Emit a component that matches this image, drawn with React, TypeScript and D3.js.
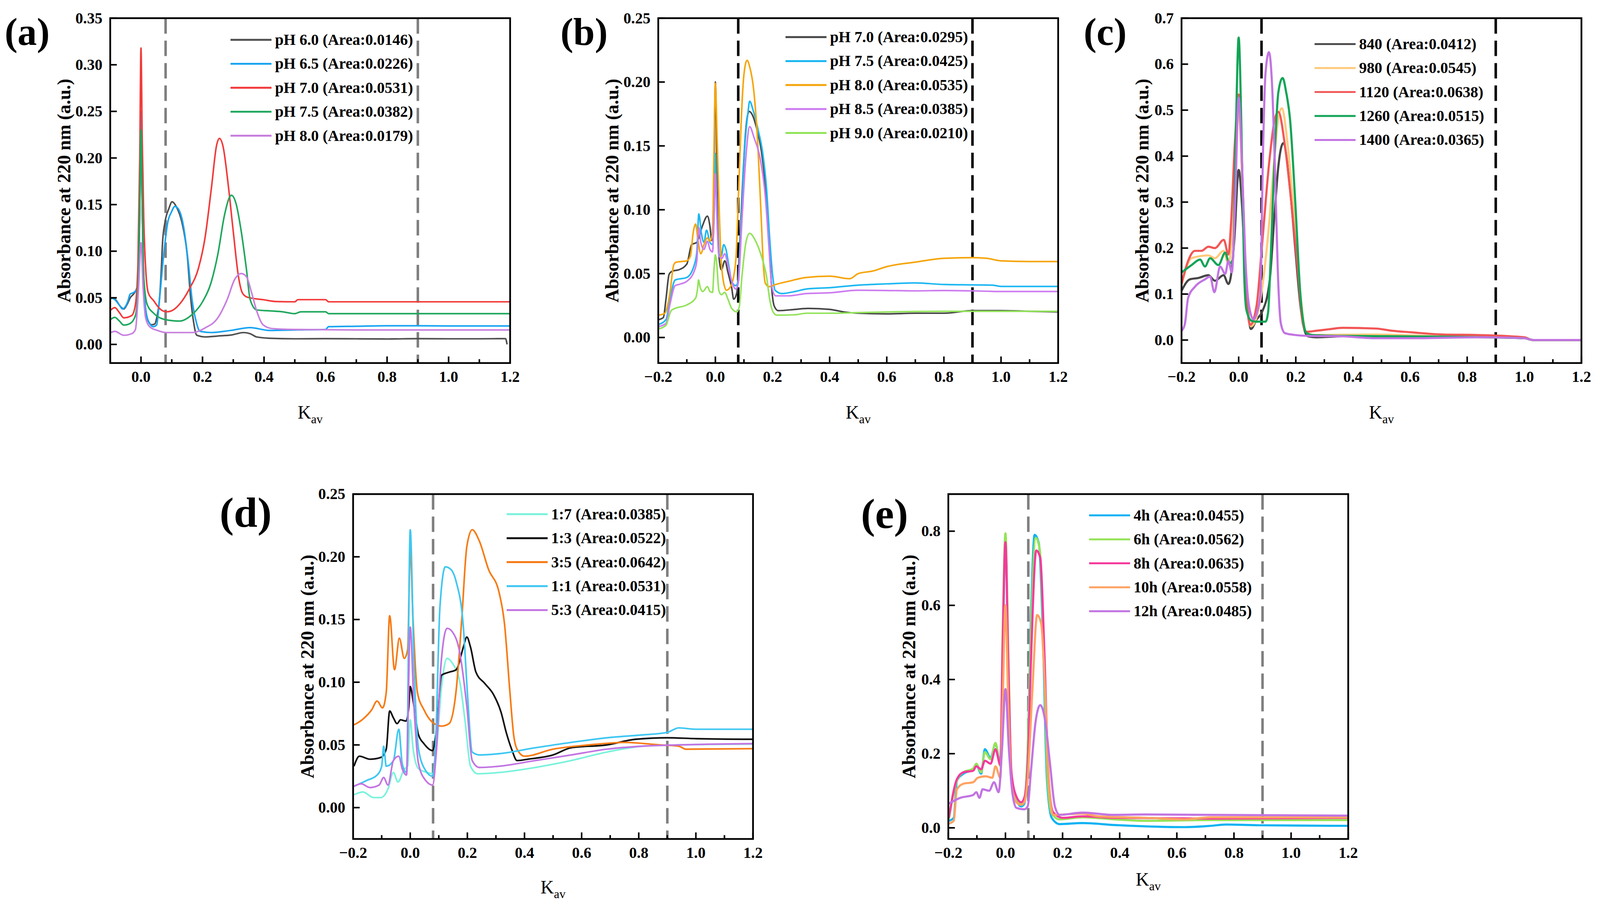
import * as d3 from 'd3';
import { useEffect } from 'react';

type Pt = [number, number];

// shared
const kavGuides = [0.08, 0.9];
const xMajor = [-0.2, 0, 0.2, 0.4, 0.6, 0.8, 1.0, 1.2];
const xMinor = [-0.1, 0.1, 0.3, 0.5, 0.7, 0.9, 1.1];

// (a) pH series
const aNames = ['pH 6.0 (Area:0.0146)', 'pH 6.5 (Area:0.0226)', 'pH 7.0 (Area:0.0531)', 'pH 7.5 (Area:0.0382)', 'pH 8.0 (Area:0.0179)'];
const aYTicks = [0, 0.05, 0.1, 0.15, 0.2, 0.25, 0.3, 0.35];
const aPH60: Pt[] = [[-0.098,0.049],[-0.09,0.05],[-0.08,0.047],[-0.07,0.042],[-0.056,0.038],[-0.045,0.043],[-0.035,0.05],[-0.022,0.055],[-0.012,0.062],[-0.005,0.12],[0,0.24],[0.005,0.13],[0.01,0.06],[0.016,0.035],[0.025,0.024],[0.035,0.021],[0.045,0.022],[0.052,0.03],[0.06,0.048],[0.066,0.08],[0.07,0.109],[0.078,0.131],[0.091,0.146],[0.101,0.153],[0.116,0.147],[0.133,0.131],[0.15,0.097],[0.162,0.048],[0.171,0.024],[0.181,0.01],[0.208,0.008],[0.25,0.009],[0.292,0.01],[0.334,0.0127],[0.355,0.0115],[0.376,0.008],[0.418,0.0066],[0.5,0.006],[0.6,0.0062],[0.7,0.006],[0.8,0.0058],[0.9,0.0062],[1.0,0.006],[1.1,0.006],[1.185,0.0062],[1.19,0.0]];
const aPH65: Pt[] = [[-0.098,0.05],[-0.085,0.048],[-0.07,0.042],[-0.06,0.038],[-0.05,0.041],[-0.043,0.046],[-0.035,0.054],[-0.022,0.056],[-0.012,0.06],[-0.006,0.1],[0,0.25],[0.004,0.15],[0.007,0.085],[0.016,0.036],[0.028,0.0225],[0.04,0.019],[0.051,0.021],[0.06,0.048],[0.074,0.097],[0.087,0.131],[0.099,0.142],[0.11,0.148],[0.12,0.146],[0.137,0.129],[0.154,0.087],[0.166,0.048],[0.179,0.025],[0.192,0.014],[0.229,0.0127],[0.292,0.015],[0.355,0.018],[0.418,0.015],[0.5,0.0155],[0.6,0.016],[0.61,0.019],[0.7,0.0195],[0.8,0.02],[0.9,0.02],[1.0,0.0198],[1.1,0.0198],[1.2,0.0198]];
const aPH70: Pt[] = [[-0.098,0.037],[-0.085,0.0395],[-0.07,0.034],[-0.056,0.0285],[-0.03,0.031],[-0.018,0.043],[-0.01,0.085],[-0.004,0.2],[0,0.318],[0.004,0.22],[0.009,0.134],[0.016,0.077],[0.024,0.055],[0.041,0.047],[0.062,0.038],[0.083,0.035],[0.099,0.036],[0.125,0.043],[0.158,0.06],[0.187,0.082],[0.208,0.114],[0.229,0.168],[0.246,0.214],[0.255,0.221],[0.267,0.212],[0.284,0.17],[0.3,0.121],[0.317,0.0725],[0.33,0.055],[0.347,0.0505],[0.397,0.048],[0.44,0.046],[0.5,0.0457],[0.51,0.048],[0.6,0.048],[0.61,0.0457],[0.8,0.0457],[1.0,0.0457],[1.2,0.0457]];
const aPH75: Pt[] = [[-0.098,0.027],[-0.085,0.029],[-0.07,0.025],[-0.056,0.0207],[-0.035,0.0225],[-0.018,0.031],[-0.01,0.06],[-0.004,0.15],[0,0.23],[0.004,0.15],[0.009,0.0725],[0.02,0.043],[0.041,0.0335],[0.074,0.027],[0.125,0.025],[0.166,0.032],[0.2,0.0457],[0.229,0.0676],[0.25,0.097],[0.271,0.138],[0.288,0.158],[0.294,0.16],[0.309,0.151],[0.326,0.121],[0.343,0.08],[0.355,0.048],[0.376,0.037],[0.418,0.036],[0.46,0.035],[0.5,0.033],[0.52,0.035],[0.6,0.035],[0.61,0.033],[0.8,0.033],[1.0,0.033],[1.2,0.033]];
const aPH80: Pt[] = [[-0.098,0.0127],[-0.085,0.014],[-0.056,0.0098],[-0.03,0.0115],[-0.018,0.016],[-0.008,0.06],[0,0.109],[0.007,0.06],[0.015,0.0286],[0.028,0.019],[0.053,0.015],[0.083,0.0127],[0.166,0.0127],[0.208,0.0176],[0.25,0.0286],[0.28,0.048],[0.305,0.07],[0.326,0.076],[0.343,0.0725],[0.36,0.055],[0.376,0.036],[0.397,0.021],[0.426,0.017],[0.5,0.016],[0.7,0.0155],[1.0,0.0155],[1.2,0.0155]];

// (b) pH series
const bNames = ['pH 7.0 (Area:0.0295)', 'pH 7.5 (Area:0.0425)', 'pH 8.0 (Area:0.0535)', 'pH 8.5 (Area:0.0385)', 'pH 9.0 (Area:0.0210)'];
const bYTicks = [0, 0.05, 0.1, 0.15, 0.2, 0.25];
const bPH70: Pt[] = [[-0.198,0.014],[-0.182,0.0157],[-0.173,0.03],[-0.162,0.0495],[-0.15,0.052],[-0.128,0.053],[-0.1,0.0575],[-0.083,0.0727],[-0.065,0.0745],[-0.046,0.087],[-0.028,0.095],[-0.019,0.087],[-0.013,0.076],[-0.006,0.11],[0,0.2],[0.008,0.092],[0.014,0.06],[0.021,0.053],[0.033,0.06],[0.044,0.051],[0.057,0.039],[0.064,0.03],[0.075,0.035],[0.084,0.066],[0.093,0.11],[0.107,0.164],[0.118,0.177],[0.13,0.174],[0.143,0.165],[0.161,0.146],[0.175,0.119],[0.188,0.0745],[0.197,0.039],[0.206,0.0246],[0.22,0.021],[0.279,0.022],[0.324,0.0228],[0.4,0.022],[0.45,0.02],[0.5,0.019],[0.6,0.0185],[0.7,0.019],[0.8,0.019],[0.9,0.021],[1.0,0.021],[1.1,0.0205],[1.2,0.02]];
const bPH75: Pt[] = [[-0.198,0.0103],[-0.173,0.014],[-0.159,0.03],[-0.141,0.045],[-0.1,0.047],[-0.074,0.0567],[-0.065,0.067],[-0.058,0.0968],[-0.049,0.0816],[-0.04,0.0745],[-0.031,0.084],[-0.019,0.0745],[-0.01,0.0727],[-0.005,0.092],[0,0.144],[0.005,0.101],[0.012,0.0656],[0.021,0.064],[0.029,0.0727],[0.037,0.069],[0.048,0.055],[0.057,0.044],[0.071,0.0406],[0.08,0.044],[0.089,0.083],[0.102,0.146],[0.114,0.176],[0.12,0.185],[0.132,0.178],[0.148,0.164],[0.166,0.144],[0.179,0.117],[0.19,0.078],[0.2,0.0495],[0.209,0.037],[0.233,0.0344],[0.279,0.036],[0.32,0.038],[0.4,0.039],[0.5,0.041],[0.6,0.042],[0.7,0.0427],[0.8,0.0415],[0.9,0.0412],[0.97,0.041],[1.0,0.04],[1.2,0.04]];
const bPH80: Pt[] = [[-0.198,0.0175],[-0.177,0.019],[-0.159,0.035],[-0.146,0.0567],[-0.137,0.059],[-0.1,0.06],[-0.087,0.064],[-0.078,0.0816],[-0.069,0.0888],[-0.062,0.078],[-0.051,0.0656],[-0.04,0.0727],[-0.028,0.078],[-0.019,0.0754],[-0.01,0.0816],[-0.005,0.146],[0,0.199],[0.005,0.164],[0.012,0.11],[0.019,0.0656],[0.028,0.044],[0.039,0.037],[0.053,0.0398],[0.064,0.0478],[0.073,0.0656],[0.082,0.119],[0.091,0.1725],[0.1,0.206],[0.111,0.217],[0.12,0.212],[0.134,0.194],[0.148,0.153],[0.159,0.101],[0.168,0.0567],[0.175,0.0424],[0.188,0.0398],[0.211,0.0415],[0.256,0.044],[0.319,0.047],[0.4,0.048],[0.47,0.046],[0.5,0.05],[0.55,0.052],[0.6,0.0555],[0.7,0.059],[0.8,0.062],[0.9,0.0625],[0.95,0.062],[1.0,0.06],[1.1,0.0595],[1.2,0.0595]];
const bPH85: Pt[] = [[-0.198,0.0086],[-0.173,0.011],[-0.159,0.026],[-0.141,0.0406],[-0.128,0.0415],[-0.1,0.044],[-0.074,0.052],[-0.065,0.06],[-0.058,0.086],[-0.051,0.0745],[-0.04,0.069],[-0.028,0.0754],[-0.019,0.069],[-0.01,0.067],[-0.005,0.092],[0,0.128],[0.005,0.096],[0.012,0.064],[0.023,0.062],[0.0325,0.0656],[0.044,0.0567],[0.055,0.046],[0.071,0.038],[0.08,0.0424],[0.093,0.092],[0.107,0.142],[0.12,0.165],[0.136,0.156],[0.157,0.14],[0.175,0.11],[0.188,0.069],[0.197,0.0406],[0.211,0.0326],[0.256,0.0326],[0.319,0.0344],[0.4,0.035],[0.5,0.037],[0.6,0.0368],[0.7,0.0365],[0.8,0.0368],[0.9,0.0365],[1.0,0.036],[1.2,0.036]];
const bPH90: Pt[] = [[-0.198,0.0068],[-0.173,0.0095],[-0.155,0.021],[-0.141,0.0228],[-0.1,0.0255],[-0.069,0.031],[-0.062,0.039],[-0.059,0.045],[-0.053,0.039],[-0.044,0.036],[-0.028,0.0398],[-0.019,0.036],[-0.01,0.0353],[-0.005,0.053],[0,0.0647],[0.005,0.057],[0.012,0.037],[0.021,0.0335],[0.0325,0.0353],[0.044,0.03],[0.057,0.0228],[0.075,0.02],[0.084,0.0246],[0.093,0.0478],[0.107,0.0745],[0.12,0.0816],[0.139,0.0763],[0.161,0.0638],[0.179,0.0478],[0.19,0.03],[0.202,0.02],[0.215,0.0175],[0.279,0.0178],[0.319,0.019],[0.4,0.019],[0.5,0.0195],[0.6,0.02],[0.8,0.0205],[1.0,0.0205],[1.2,0.0205]];

// (c) molecular weight series
const cNames = ['840 (Area:0.0412)', '980 (Area:0.0545)', '1120 (Area:0.0638)', '1260 (Area:0.0515)', '1400 (Area:0.0365)'];
const cYTicks = [0, 0.1, 0.2, 0.3, 0.4, 0.5, 0.6, 0.7];
const c840: Pt[] = [[-0.2,0.107],[-0.171,0.132],[-0.141,0.135],[-0.106,0.141],[-0.083,0.129],[-0.053,0.141],[-0.036,0.122],[-0.027,0.14],[-0.015,0.22],[0,0.37],[0.012,0.29],[0.022,0.16],[0.031,0.076],[0.043,0.024],[0.063,0.045],[0.081,0.06],[0.108,0.126],[0.126,0.277],[0.139,0.378],[0.156,0.428],[0.18,0.328],[0.198,0.2],[0.216,0.076],[0.234,0.015],[0.243,0.008],[0.27,0.006],[0.364,0.008],[0.48,0.008],[0.6,0.005],[0.8,0.008],[1.0,0.004],[1.03,0],[1.2,0]];
const c980: Pt[] = [[-0.2,0.12],[-0.165,0.178],[-0.106,0.184],[-0.083,0.178],[-0.053,0.194],[-0.036,0.166],[-0.02,0.25],[0,0.5],[0.015,0.3],[0.027,0.1],[0.043,0.03],[0.063,0.05],[0.085,0.126],[0.108,0.262],[0.126,0.403],[0.139,0.484],[0.151,0.504],[0.171,0.428],[0.193,0.277],[0.216,0.1],[0.234,0.02],[0.26,0.011],[0.48,0.012],[0.7,0.008],[1.0,0.004],[1.03,0],[1.2,0]];
const c1120: Pt[] = [[-0.2,0.122],[-0.177,0.172],[-0.153,0.194],[-0.13,0.194],[-0.106,0.203],[-0.083,0.2],[-0.052,0.218],[-0.036,0.186],[-0.027,0.25],[-0.014,0.42],[0,0.534],[0.016,0.302],[0.025,0.126],[0.036,0.04],[0.04,0.033],[0.063,0.076],[0.081,0.2],[0.108,0.393],[0.126,0.479],[0.139,0.496],[0.162,0.423],[0.184,0.302],[0.207,0.151],[0.225,0.035],[0.238,0.018],[0.27,0.02],[0.317,0.0235],[0.364,0.0266],[0.48,0.025],[0.54,0.02],[0.6,0.017],[0.716,0.012],[0.834,0.011],[1.0,0.006],[1.03,0],[1.2,0]];
const c1260: Pt[] = [[-0.2,0.147],[-0.165,0.163],[-0.135,0.175],[-0.118,0.16],[-0.1,0.178],[-0.071,0.163],[-0.047,0.19],[-0.033,0.166],[-0.02,0.176],[-0.01,0.45],[0,0.658],[0.01,0.45],[0.019,0.15],[0.027,0.066],[0.045,0.042],[0.063,0.04],[0.094,0.04],[0.103,0.06],[0.112,0.176],[0.126,0.403],[0.139,0.539],[0.154,0.57],[0.166,0.54],[0.18,0.479],[0.198,0.302],[0.216,0.1],[0.229,0.03],[0.238,0.015],[0.258,0.011],[0.364,0.009],[0.6,0.008],[1.0,0.004],[1.03,0],[1.2,0]];
const c1400: Pt[] = [[-0.2,0.02],[-0.188,0.036],[-0.177,0.0915],[-0.153,0.116],[-0.118,0.132],[-0.1,0.138],[-0.085,0.104],[-0.065,0.16],[-0.047,0.144],[-0.036,0.172],[-0.024,0.147],[-0.012,0.308],[0,0.527],[0.011,0.395],[0.023,0.184],[0.035,0.08],[0.052,0.045],[0.064,0.06],[0.076,0.1],[0.085,0.403],[0.094,0.58],[0.106,0.626],[0.117,0.554],[0.128,0.353],[0.137,0.151],[0.148,0.035],[0.162,0.015],[0.198,0.011],[0.246,0.009],[0.364,0.008],[0.48,0.004],[0.6,0.004],[0.834,0.006],[1.0,0.004],[1.03,0],[1.2,0]];

// (d) ratio series
const dNames = ['1:7 (Area:0.0385)', '1:3 (Area:0.0522)', '3:5 (Area:0.0642)', '1:1 (Area:0.0531)', '5:3 (Area:0.0415)'];
const dYTicks = [0, 0.05, 0.1, 0.15, 0.2, 0.25];
const d17: Pt[] = [[-0.197,0.0102],[-0.166,0.0125],[-0.128,0.008],[-0.103,0.008],[-0.078,0.0148],[-0.059,0.028],[-0.043,0.0205],[-0.021,0.0307],[-0.009,0.033],[0,0.07],[0.01,0.047],[0.029,0.031],[0.06,0.028],[0.078,0.027],[0.092,0.047],[0.11,0.097],[0.129,0.119],[0.148,0.115],[0.173,0.101],[0.192,0.069],[0.211,0.033],[0.236,0.027],[0.311,0.028],[0.437,0.032],[0.563,0.0375],[0.688,0.0443],[0.814,0.049],[0.94,0.05],[1.2,0.0507]];
const d13: Pt[] = [[-0.197,0.033],[-0.178,0.041],[-0.141,0.0386],[-0.103,0.04],[-0.084,0.0466],[-0.072,0.077],[-0.059,0.0716],[-0.046,0.067],[-0.034,0.07],[-0.015,0.069],[-0.005,0.08],[0,0.0966],[0.01,0.085],[0.029,0.058],[0.048,0.051],[0.078,0.0455],[0.092,0.0625],[0.11,0.1057],[0.136,0.108],[0.161,0.11],[0.186,0.128],[0.198,0.136],[0.211,0.128],[0.23,0.108],[0.261,0.099],[0.292,0.09],[0.318,0.076],[0.336,0.06],[0.355,0.0466],[0.374,0.0375],[0.412,0.0386],[0.5,0.042],[0.563,0.0477],[0.688,0.05],[0.789,0.0545],[0.9,0.0557],[1.0,0.055],[1.2,0.0545]];
const d35: Pt[] = [[-0.197,0.066],[-0.166,0.0705],[-0.135,0.078],[-0.116,0.085],[-0.097,0.0795],[-0.084,0.092],[-0.072,0.153],[-0.055,0.11],[-0.038,0.135],[-0.021,0.119],[-0.009,0.126],[0,0.206],[0.01,0.149],[0.025,0.092],[0.048,0.078],[0.078,0.068],[0.11,0.065],[0.136,0.067],[0.161,0.094],[0.18,0.149],[0.198,0.208],[0.217,0.2216],[0.242,0.2125],[0.274,0.19],[0.311,0.1716],[0.33,0.1466],[0.349,0.092],[0.362,0.058],[0.374,0.0466],[0.4,0.041],[0.5,0.0466],[0.626,0.05],[0.75,0.052],[0.876,0.05],[0.94,0.049],[0.965,0.0466],[1.2,0.047]];
const d11: Pt[] = [[-0.197,0.017],[-0.153,0.0216],[-0.116,0.026],[-0.1,0.033],[-0.093,0.0489],[-0.084,0.033],[-0.059,0.0375],[-0.04,0.0625],[-0.028,0.035],[-0.013,0.028],[0,0.2216],[0.013,0.115],[0.029,0.0466],[0.054,0.0295],[0.078,0.025],[0.088,0.0466],[0.104,0.16],[0.123,0.192],[0.142,0.19],[0.161,0.18],[0.186,0.144],[0.2,0.092],[0.217,0.0443],[0.242,0.042],[0.311,0.043],[0.437,0.0477],[0.563,0.052],[0.688,0.0557],[0.814,0.058],[0.9,0.06],[0.94,0.0636],[1.0,0.0625],[1.2,0.0625]];
const d53: Pt[] = [[-0.197,0.017],[-0.172,0.019],[-0.141,0.016],[-0.109,0.018],[-0.093,0.024],[-0.078,0.018],[-0.059,0.0375],[-0.04,0.041],[-0.028,0.031],[-0.013,0.026],[0,0.144],[0.013,0.081],[0.029,0.035],[0.054,0.0216],[0.078,0.018],[0.092,0.0466],[0.108,0.115],[0.129,0.143],[0.148,0.14],[0.173,0.124],[0.198,0.081],[0.217,0.0375],[0.242,0.032],[0.311,0.033],[0.437,0.0375],[0.563,0.042],[0.688,0.0466],[0.814,0.049],[0.94,0.05],[1.2,0.051]];

// (e) time series
const eNames = ['4h (Area:0.0455)', '6h (Area:0.0562)', '8h (Area:0.0635)', '10h (Area:0.0558)', '12h (Area:0.0485)'];
const eYTicks = [0, 0.2, 0.4, 0.6, 0.8];
const e4h: Pt[] = [[-0.198,0.019],[-0.181,0.027],[-0.17,0.127],[-0.147,0.146],[-0.113,0.158],[-0.102,0.17],[-0.085,0.146],[-0.072,0.212],[-0.052,0.189],[-0.035,0.227],[-0.018,0.173],[-0.01,0.443],[0,0.786],[0.01,0.443],[0.021,0.135],[0.038,0.077],[0.055,0.058],[0.066,0.065],[0.078,0.212],[0.089,0.559],[0.102,0.79],[0.117,0.767],[0.131,0.52],[0.145,0.135],[0.162,0.027],[0.19,0.01],[0.269,0.013],[0.381,0.0077],[0.493,0.004],[0.628,0.002],[0.718,0.0054],[0.774,0.009],[0.887,0.007],[1.2,0.0054]];
const e6h: Pt[] = [[-0.198,0.023],[-0.17,0.127],[-0.147,0.15],[-0.113,0.16],[-0.102,0.173],[-0.085,0.15],[-0.072,0.204],[-0.052,0.185],[-0.035,0.229],[-0.018,0.166],[-0.01,0.52],[0,0.794],[0.01,0.482],[0.021,0.143],[0.038,0.081],[0.055,0.0655],[0.066,0.077],[0.078,0.212],[0.089,0.52],[0.106,0.782],[0.12,0.751],[0.134,0.482],[0.147,0.135],[0.162,0.0385],[0.19,0.023],[0.269,0.0285],[0.381,0.023],[0.493,0.019],[0.718,0.021],[1.2,0.021]];
const e8h: Pt[] = [[-0.198,0.027],[-0.17,0.131],[-0.147,0.15],[-0.113,0.154],[-0.102,0.166],[-0.085,0.158],[-0.072,0.181],[-0.052,0.173],[-0.035,0.212],[-0.018,0.17],[-0.01,0.482],[0,0.77],[0.01,0.443],[0.021,0.15],[0.038,0.085],[0.055,0.069],[0.066,0.081],[0.078,0.173],[0.089,0.443],[0.108,0.748],[0.122,0.728],[0.136,0.482],[0.151,0.135],[0.167,0.042],[0.201,0.027],[0.269,0.031],[0.381,0.027],[0.718,0.025],[1.2,0.027]];
const e10h: Pt[] = [[-0.198,0.0116],[-0.181,0.019],[-0.17,0.104],[-0.147,0.119],[-0.113,0.123],[-0.097,0.135],[-0.069,0.139],[-0.046,0.135],[-0.035,0.166],[-0.018,0.135],[-0.01,0.328],[0,0.6],[0.01,0.328],[0.021,0.119],[0.038,0.069],[0.055,0.062],[0.066,0.069],[0.078,0.135],[0.094,0.366],[0.111,0.574],[0.125,0.551],[0.139,0.366],[0.153,0.112],[0.167,0.035],[0.269,0.0385],[0.325,0.031],[0.493,0.027],[0.628,0.023],[0.718,0.0285],[1.2,0.0285]];
const e12h: Pt[] = [[-0.198,0.0655],[-0.158,0.081],[-0.113,0.0886],[-0.102,0.096],[-0.091,0.081],[-0.08,0.104],[-0.057,0.1],[-0.04,0.123],[-0.024,0.096],[-0.012,0.212],[0,0.374],[0.012,0.212],[0.024,0.096],[0.038,0.054],[0.066,0.05],[0.078,0.058],[0.089,0.15],[0.106,0.289],[0.122,0.331],[0.139,0.289],[0.156,0.173],[0.173,0.058],[0.19,0.035],[0.269,0.041],[0.381,0.035],[0.493,0.036],[0.718,0.035],[1.2,0.033]];

interface PanelSpec {
  id: string;
  tag: string;
  tagX: number;
  tagY: number;
  tagSize: number;
  left: number;
  top: number;
  xDomain: [number, number];
  yDomain: [number, number];
  yTicks: number[];
  digits: number;
  titleGap: number;
  guideColor: string;
  lineWidth: number;
  names: string[];
  colors: string[];
  series: Pt[][];
  legendX: number;
  legendY: number;
  kavGap: number;
}

const FULL_W = 4137;
const FULL_H = 2356;
const W = 1034;
const H = 892;
const serif = '"Liberation Serif", "Times New Roman", serif';

const panels: PanelSpec[] = [
  {
    id: 'a', tag: '(a)', tagX: 12, tagY: 116, tagSize: 100, left: 285, top: 47,
    xDomain: [-0.1, 1.2], yDomain: [-0.02, 0.35], yTicks: aYTicks, digits: 2, titleGap: 119,
    guideColor: '#7f7f7f', lineWidth: 4,
    names: aNames, colors: ['#4f4f4f', '#18a4f2', '#f23a3a', '#1fa75d', '#c880df'],
    series: [aPH60, aPH65, aPH70, aPH75, aPH80], legendX: 596, legendY: 103, kavGap: 144,
  },
  {
    id: 'b', tag: '(b)', tagX: 1449, tagY: 116, tagSize: 100, left: 1702, top: 47,
    xDomain: [-0.2, 1.2], yDomain: [-0.02, 0.25], yTicks: bYTicks, digits: 2, titleGap: 119,
    guideColor: '#000000', lineWidth: 4,
    names: bNames, colors: ['#454545', '#1cb7f2', '#f5a50a', '#cc7cf0', '#92e35a'],
    series: [bPH70, bPH75, bPH80, bPH85, bPH90], legendX: 2031, legendY: 96, kavGap: 144,
  },
  {
    id: 'c', tag: '(c)', tagX: 2802, tagY: 116, tagSize: 100, left: 3055, top: 47,
    xDomain: [-0.2, 1.2], yDomain: [-0.05, 0.7], yTicks: cYTicks, digits: 1, titleGap: 102,
    guideColor: '#000000', lineWidth: 5.5,
    names: cNames, colors: ['#464646', '#ffc97c', '#f25656', '#12a456', '#c274e2'],
    series: [c840, c980, c1120, c1260, c1400], legendX: 3399, legendY: 114, kavGap: 144,
  },
  {
    id: 'd', tag: '(d)', tagX: 568, tagY: 1362, tagSize: 110, left: 913, top: 1278,
    xDomain: [-0.2, 1.2], yDomain: [-0.025, 0.25], yTicks: dYTicks, digits: 2, titleGap: 118,
    guideColor: '#7f7f7f', lineWidth: 4.2,
    names: dNames, colors: ['#7af2dc', '#111111', '#f77b14', '#3fc7f2', '#c274e2'],
    series: [d17, d13, d35, d11, d53], legendX: 1310, legendY: 1330, kavGap: 141,
  },
  {
    id: 'e', tag: '(e)', tagX: 2226, tagY: 1366, tagSize: 110, left: 2452, top: 1278,
    xDomain: [-0.2, 1.2], yDomain: [-0.03, 0.9], yTicks: eYTicks, digits: 1, titleGap: 102,
    guideColor: '#7f7f7f', lineWidth: 5.5,
    names: eNames, colors: ['#0fb2f2', '#95e357', '#f43a9c', '#ffa263', '#c274e2'],
    series: [e4h, e6h, e8h, e10h, e12h], legendX: 2816, legendY: 1333, kavGap: 121,
  },
];

const fmt = (v: number, digits: number) => {
  const s = Math.abs(v).toFixed(digits);
  return v < -1e-9 ? `\u2212${s}` : s;
};

function Panel({ p }: { p: PanelSpec }) {
  const x = d3.scaleLinear().domain(p.xDomain).range([p.left, p.left + W]);
  const y = d3.scaleLinear().domain(p.yDomain).range([p.top + H, p.top]);
  const line = d3
    .line<Pt>()
    .x((d) => x(d[0]))
    .y((d) => y(d[1]))
    .curve(d3.curveMonotoneX);
  const bottom = p.top + H;
  const inX = (v: number) => v >= p.xDomain[0] - 1e-9 && v <= p.xDomain[1] + 1e-9;

  return (
    <g>
      <defs>
        <clipPath id={`clip-${p.id}`}>
          <rect x={p.left} y={p.top} width={W} height={H} />
        </clipPath>
      </defs>

      {/* Kav 경계 점선 */}
      {kavGuides.map((g) => (
        <line
          key={g}
          x1={x(g)}
          x2={x(g)}
          y1={p.top}
          y2={bottom}
          stroke={p.guideColor}
          strokeWidth={6.5}
          strokeDasharray="40 18"
        />
      ))}

      <g clipPath={`url(#clip-${p.id})`}>
        {p.series.map((s, i) => (
          <path
            key={i}
            d={line(s) ?? ''}
            fill="none"
            stroke={p.colors[i]}
            strokeWidth={p.lineWidth}
            strokeLinejoin="round"
          />
        ))}
      </g>

      {/* 축 */}
      <rect x={p.left} y={p.top} width={W} height={H} fill="none" stroke="#000" strokeWidth={4.5} />
      {xMajor.filter(inX).map((t) => (
        <g key={`xm${t}`}>
          <line x1={x(t)} x2={x(t)} y1={bottom} y2={bottom - 17} stroke="#000" strokeWidth={4} />
          <text
            x={x(t)}
            y={bottom + 36}
            textAnchor="middle"
            dominantBaseline="central"
            fontFamily={serif}
            fontWeight="bold"
            fontSize={40}
          >
            {fmt(t, 1)}
          </text>
        </g>
      ))}
      {xMinor.filter(inX).map((t) => (
        <line key={`xn${t}`} x1={x(t)} x2={x(t)} y1={bottom} y2={bottom - 10} stroke="#000" strokeWidth={4} />
      ))}
      {p.yTicks.map((t) => (
        <g key={`y${t}`}>
          <line x1={p.left} x2={p.left + 17} y1={y(t)} y2={y(t)} stroke="#000" strokeWidth={4} />
          <text
            x={p.left - 20}
            y={y(t)}
            textAnchor="end"
            dominantBaseline="central"
            fontFamily={serif}
            fontWeight="bold"
            fontSize={40}
          >
            {fmt(t, p.digits)}
          </text>
        </g>
      ))}

      <text
        transform={`translate(${p.left - p.titleGap},${p.top + H / 2}) rotate(-90)`}
        textAnchor="middle"
        dominantBaseline="central"
        fontFamily={serif}
        fontWeight="bold"
        fontSize={48}
      >
        Absorbance at 220 nm (a.u.)
      </text>

      <text x={p.left + W / 2} y={bottom + p.kavGap} textAnchor="middle" fontFamily={serif} fontSize={48}>
        K
        <tspan dy={12} fontSize={32}>
          av
        </tspan>
      </text>

      <text x={p.tagX} y={p.tagY} fontFamily={serif} fontWeight="bold" fontSize={p.tagSize}>
        {p.tag}
      </text>

      {/* 범례 */}
      {p.names.map((name, i) => {
        const ly = p.legendY + i * 62;
        return (
          <g key={name}>
            <line x1={p.legendX} x2={p.legendX + 106} y1={ly} y2={ly} stroke={p.colors[i]} strokeWidth={5} />
            <text
              x={p.legendX + 115}
              y={ly}
              dominantBaseline="central"
              fontFamily={serif}
              fontWeight="bold"
              fontSize={40}
            >
              {name}
            </text>
          </g>
        );
      })}
    </g>
  );
}

export default function App() {
  // 스크롤바가 생기지 않도록 body 여백 제거
  useEffect(() => {
    document.documentElement.style.overflow = 'hidden';
    document.body.style.margin = '0';
    document.body.style.overflow = 'hidden';
  }, []);

  // 뷰포트 크기에 맞춰 전체 그림을 축소/확대
  return (
    <svg
      viewBox={`0 0 ${FULL_W} ${FULL_H}`}
      preserveAspectRatio="xMinYMin meet"
      style={{ position: 'fixed', left: 0, top: 0, width: '100vw', height: '100vh', display: 'block', background: '#fff' }}
    >
      <rect width={FULL_W} height={FULL_H} fill="#fff" />
      {panels.map((p) => (
        <Panel key={p.id} p={p} />
      ))}
    </svg>
  );
}
